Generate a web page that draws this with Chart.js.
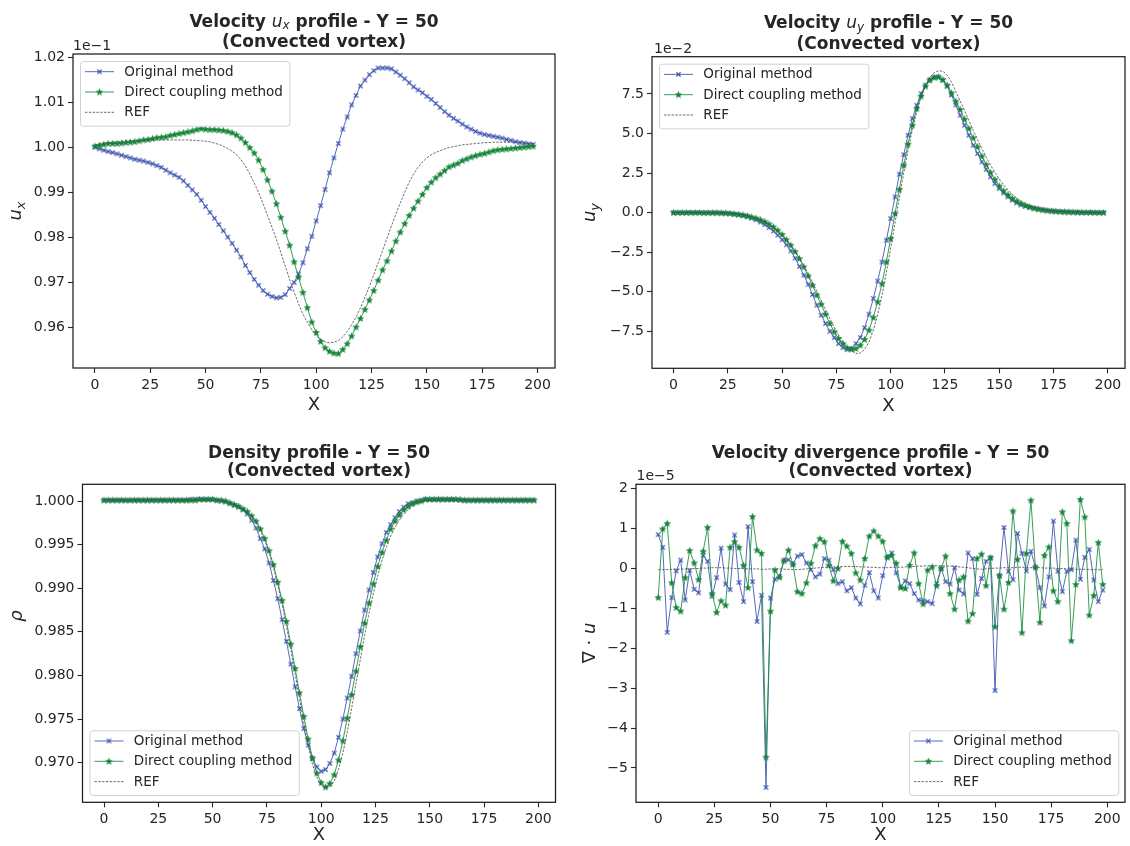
<!DOCTYPE html>
<html>
<head>
<meta charset="utf-8">
<script src="https://cdn.jsdelivr.net/npm/chart.js@4.4.1/dist/chart.umd.min.js"></script>
<style>
  html, body { margin: 0; padding: 0; background: #fff; }
  #wrap { position: relative; width: 1130px; height: 846px; overflow: hidden; }
  canvas { position: absolute; }
</style>
</head>
<body>
<div id="wrap">
  <canvas id="ux" width="565" height="423" style="left:0;top:0"></canvas>
  <canvas id="uy" width="565" height="423" style="left:565px;top:0"></canvas>
  <canvas id="rho" width="565" height="423" style="left:0;top:423px"></canvas>
  <canvas id="div" width="565" height="423" style="left:565px;top:423px"></canvas>
</div>
<script>
const FONT = "'DejaVu Sans', 'Liberation Sans', sans-serif";
const INK = "#262626";
const BLUE = "rgb(56, 80, 174)";
const BLUE_LINE = "rgba(56, 80, 174, 0.85)";
const GREEN = "rgb(20, 132, 56)";
const GREEN_LINE = "rgba(22, 140, 60, 0.85)";
const REF_COLOR = "#454545";

// grid positions along the Y = 50 line
const xPos = [
  0, 2, 4, 6, 8, 10, 12, 14, 16, 18,
  20, 22, 24, 26, 28, 30, 32, 34, 36, 38,
  40, 42, 44, 46, 48, 50, 52, 54, 56, 58,
  60, 62, 64, 66, 68, 70, 72, 74, 76, 78,
  80, 82, 84, 86, 88, 90, 92, 94, 96, 98,
  100, 102, 104, 106, 108, 110, 112, 114, 116, 118,
  120, 122, 124, 126, 128, 130, 132, 134, 136, 138,
  140, 142, 144, 146, 148, 150, 152, 154, 156, 158,
  160, 162, 164, 166, 168, 170, 172, 174, 176, 178,
  180, 182, 184, 186, 188, 190, 192, 194, 196, 198,
];
const xTicks = [0, 25, 50, 75, 100, 125, 150, 175, 200];

// u_x (x 1e-1)
const uxOriginal = [
  1.0000, 0.9996, 0.9993, 0.9990, 0.9988, 0.9985, 0.9982, 0.9979, 0.9976, 0.9973,
  0.9971, 0.9969, 0.9966, 0.9963, 0.9959, 0.9955, 0.9949, 0.9943, 0.9938, 0.9933,
  0.9925, 0.9915, 0.9905, 0.9895, 0.9882, 0.9868, 0.9855, 0.9842, 0.9828, 0.9814,
  0.9800, 0.9786, 0.9771, 0.9756, 0.9737, 0.9721, 0.9706, 0.9693, 0.9681, 0.9673,
  0.9668, 0.9665, 0.9666, 0.9672, 0.9686, 0.9699, 0.9718, 0.9743, 0.9774, 0.9802,
  0.9836, 0.9870, 0.9906, 0.9943, 0.9976, 1.0008, 1.0040, 1.0067, 1.0094, 1.0115,
  1.0136, 1.0149, 1.0161, 1.0170, 1.0176, 1.0176, 1.0176, 1.0174, 1.0167, 1.0160,
  1.0152, 1.0143, 1.0134, 1.0127, 1.0121, 1.0113, 1.0106, 1.0097, 1.0088, 1.0079,
  1.0071, 1.0064, 1.0058, 1.0051, 1.0045, 1.0040, 1.0035, 1.0031, 1.0028, 1.0026,
  1.0024, 1.0022, 1.0020, 1.0017, 1.0015, 1.0012, 1.0010, 1.0009, 1.0007, 1.0006,
];
const uxDirect = [
  1.0002, 1.0004, 1.0006, 1.0008, 1.0008, 1.0008, 1.0009, 1.0010, 1.0011, 1.0012,
  1.0014, 1.0016, 1.0017, 1.0019, 1.0021, 1.0022, 1.0023, 1.0026, 1.0028, 1.0030,
  1.0032, 1.0034, 1.0036, 1.0039, 1.0041, 1.0040, 1.0039, 1.0039, 1.0038, 1.0037,
  1.0035, 1.0032, 1.0027, 1.0020, 1.0010, 0.9999, 0.9987, 0.9971, 0.9950, 0.9927,
  0.9902, 0.9874, 0.9844, 0.9813, 0.9782, 0.9745, 0.9711, 0.9677, 0.9643, 0.9611,
  0.9588, 0.9568, 0.9554, 0.9546, 0.9542, 0.9541, 0.9550, 0.9563, 0.9580, 0.9600,
  0.9619, 0.9639, 0.9660, 0.9681, 0.9704, 0.9727, 0.9747, 0.9769, 0.9791, 0.9811,
  0.9830, 0.9848, 0.9864, 0.9880, 0.9895, 0.9910, 0.9922, 0.9932, 0.9940, 0.9948,
  0.9956, 0.9960, 0.9964, 0.9970, 0.9974, 0.9978, 0.9981, 0.9984, 0.9986, 0.9989,
  0.9992, 0.9994, 0.9995, 0.9996, 0.9997, 0.9998, 0.9999, 1.0000, 1.0001, 1.0002,
];
const uxRef = [
  1.0005, 1.0007, 1.0009, 1.0010, 1.0011, 1.0012, 1.0013, 1.0014, 1.0014, 1.0015,
  1.0015, 1.0015, 1.0016, 1.0016, 1.0016, 1.0016, 1.0016, 1.0016, 1.0016, 1.0016,
  1.0016, 1.0016, 1.0015, 1.0015, 1.0014, 1.0013, 1.0012, 1.0009, 1.0006, 1.0002,
  0.9997, 0.9991, 0.9983, 0.9972, 0.9958, 0.9940, 0.9920, 0.9899, 0.9874, 0.9848,
  0.9822, 0.9795, 0.9766, 0.9736, 0.9705, 0.9678, 0.9652, 0.9629, 0.9610, 0.9594,
  0.9581, 0.9573, 0.9567, 0.9565, 0.9566, 0.9570, 0.9578, 0.9590, 0.9605, 0.9622,
  0.9643, 0.9666, 0.9690, 0.9716, 0.9743, 0.9770, 0.9798, 0.9825, 0.9851, 0.9876,
  0.9900, 0.9922, 0.9940, 0.9955, 0.9967, 0.9976, 0.9983, 0.9988, 0.9992, 0.9996,
  0.9999, 1.0001, 1.0003, 1.0005, 1.0006, 1.0007, 1.0008, 1.0009, 1.0010, 1.0010,
  1.0011, 1.0011, 1.0011, 1.0011, 1.0011, 1.0011, 1.0011, 1.0010, 1.0009, 1.0008,
];
const uxTicks = [0.96, 0.97, 0.98, 0.99, 1.00, 1.01, 1.02];

// u_y (x 1e-2)
const uyOriginal = [
  0.00, 0.00, 0.00, 0.00, 0.00, 0.00, 0.00, -0.01, -0.01, -0.01,
  -0.01, -0.02, -0.04, -0.06, -0.10, -0.14, -0.19, -0.26, -0.35, -0.46,
  -0.60, -0.76, -0.95, -1.17, -1.43, -1.72, -2.04, -2.42, -2.88, -3.40,
  -3.96, -4.53, -5.18, -5.85, -6.49, -7.01, -7.50, -7.90, -8.28, -8.53,
  -8.66, -8.59, -8.28, -7.90, -7.27, -6.42, -5.43, -4.32, -3.12, -1.75,
  -0.38, 0.99, 2.42, 3.66, 4.89, 5.94, 6.78, 7.52, 8.05, 8.40,
  8.57, 8.57, 8.36, 7.98, 7.42, 6.80, 6.15, 5.52, 4.89, 4.25,
  3.73, 3.20, 2.72, 2.25, 1.83, 1.52, 1.24, 0.99, 0.78, 0.61,
  0.48, 0.40, 0.33, 0.27, 0.22, 0.18, 0.14, 0.11, 0.09, 0.07,
  0.05, 0.04, 0.03, 0.02, 0.02, 0.01, 0.01, 0.01, 0.00, 0.00,
];
const uyDirect = [
  0.00, 0.00, 0.00, 0.00, 0.00, 0.00, 0.00, -0.01, -0.01, -0.01,
  -0.01, -0.02, -0.03, -0.05, -0.08, -0.11, -0.15, -0.21, -0.28, -0.35,
  -0.45, -0.57, -0.72, -0.90, -1.12, -1.38, -1.72, -2.06, -2.46, -2.91,
  -3.43, -4.00, -4.59, -5.22, -5.79, -6.42, -7.01, -7.54, -7.96, -8.28,
  -8.55, -8.63, -8.59, -8.38, -8.02, -7.43, -6.63, -5.64, -4.49, -3.12,
  -1.64, -0.06, 1.47, 2.99, 4.32, 5.52, 6.57, 7.35, 7.98, 8.36,
  8.53, 8.57, 8.40, 8.05, 7.56, 7.03, 6.51, 5.90, 5.31, 4.72,
  4.15, 3.56, 3.03, 2.53, 2.09, 1.68, 1.38, 1.13, 0.90, 0.72,
  0.57, 0.45, 0.36, 0.28, 0.22, 0.17, 0.13, 0.10, 0.08, 0.06,
  0.05, 0.04, 0.03, 0.02, 0.01, 0.01, 0.01, 0.00, 0.00, 0.00,
];
const uyRef = [
  0.00, 0.00, 0.00, 0.00, 0.00, 0.00, 0.00, 0.00, 0.00, 0.00,
  0.00, -0.01, -0.02, -0.04, -0.06, -0.09, -0.13, -0.19, -0.26, -0.35,
  -0.46, -0.60, -0.77, -0.97, -1.20, -1.46, -1.76, -2.10, -2.48, -2.90,
  -3.36, -3.86, -4.40, -4.97, -5.55, -6.13, -6.70, -7.24, -7.73, -8.15,
  -8.50, -8.75, -8.90, -8.88, -8.65, -8.18, -7.44, -6.45, -5.22, -3.80,
  -2.25, -0.65, 0.95, 2.50, 3.95, 5.25, 6.38, 7.30, 8.02, 8.53,
  8.84, 8.96, 8.93, 8.70, 8.25, 7.65, 7.05, 6.45, 5.82, 5.20,
  4.60, 4.03, 3.50, 3.00, 2.55, 2.12, 1.75, 1.43, 1.15, 0.92,
  0.73, 0.58, 0.45, 0.35, 0.27, 0.21, 0.16, 0.12, 0.09, 0.07,
  0.05, 0.04, 0.03, 0.02, 0.02, 0.01, 0.01, 0.01, 0.00, 0.00,
];
const uyTicks = [-7.5, -5.0, -2.5, 0.0, 2.5, 5.0, 7.5];

// density
const rhoOriginal = [
  1.0001, 1.0001, 1.0001, 1.0001, 1.0001, 1.0001, 1.0001, 1.0001, 1.0001, 1.0001,
  1.0001, 1.0001, 1.0001, 1.0001, 1.0001, 1.0001, 1.0001, 1.0001, 1.0001, 1.0001,
  1.0002, 1.0002, 1.0002, 1.0002, 1.0002, 1.0002, 1.0001, 1.0000, 0.9999, 0.9997,
  0.9995, 0.9993, 0.9990, 0.9985, 0.9978, 0.9969, 0.9957, 0.9945, 0.9929, 0.9909,
  0.9888, 0.9864, 0.9839, 0.9813, 0.9787, 0.9762, 0.9739, 0.9720, 0.9705, 0.9695,
  0.9690, 0.9692, 0.9699, 0.9711, 0.9729, 0.9750, 0.9774, 0.9799, 0.9825, 0.9851,
  0.9875, 0.9898, 0.9918, 0.9936, 0.9951, 0.9964, 0.9973, 0.9981, 0.9988, 0.9993,
  0.9997, 0.9998, 1.0000, 1.0001, 1.0002, 1.0002, 1.0002, 1.0002, 1.0002, 1.0002,
  1.0002, 1.0002, 1.0001, 1.0001, 1.0001, 1.0001, 1.0001, 1.0001, 1.0001, 1.0001,
  1.0001, 1.0001, 1.0001, 1.0001, 1.0001, 1.0001, 1.0001, 1.0001, 1.0001, 1.0001,
];
const rhoDirect = [
  1.0001, 1.0001, 1.0001, 1.0001, 1.0001, 1.0001, 1.0001, 1.0001, 1.0001, 1.0001,
  1.0001, 1.0001, 1.0001, 1.0001, 1.0001, 1.0001, 1.0001, 1.0001, 1.0001, 1.0001,
  1.0001, 1.0001, 1.0002, 1.0002, 1.0002, 1.0002, 1.0001, 1.0001, 1.0000, 0.9998,
  0.9996, 0.9994, 0.9991, 0.9988, 0.9983, 0.9977, 0.9968, 0.9957, 0.9943, 0.9927,
  0.9907, 0.9886, 0.9862, 0.9836, 0.9808, 0.9780, 0.9753, 0.9727, 0.9705, 0.9688,
  0.9677, 0.9672, 0.9676, 0.9686, 0.9703, 0.9725, 0.9751, 0.9778, 0.9805, 0.9833,
  0.9860, 0.9883, 0.9905, 0.9925, 0.9941, 0.9955, 0.9968, 0.9977, 0.9984, 0.9990,
  0.9994, 0.9997, 0.9999, 1.0000, 1.0002, 1.0002, 1.0002, 1.0002, 1.0002, 1.0002,
  1.0002, 1.0002, 1.0002, 1.0001, 1.0001, 1.0001, 1.0001, 1.0001, 1.0001, 1.0001,
  1.0001, 1.0001, 1.0001, 1.0001, 1.0001, 1.0001, 1.0001, 1.0001, 1.0001, 1.0001,
];
const rhoRef = [
  1.0001, 1.0001, 1.0001, 1.0001, 1.0001, 1.0001, 1.0001, 1.0001, 1.0001, 1.0001,
  1.0001, 1.0001, 1.0001, 1.0001, 1.0001, 1.0001, 1.0001, 1.0001, 1.0001, 1.0001,
  1.0001, 1.0001, 1.0001, 1.0001, 1.0001, 1.0001, 1.0001, 1.0000, 0.9999, 0.9998,
  0.9996, 0.9994, 0.9991, 0.9987, 0.9982, 0.9975, 0.9966, 0.9955, 0.9941, 0.9924,
  0.9904, 0.9882, 0.9857, 0.9830, 0.9802, 0.9774, 0.9746, 0.9720, 0.9698, 0.9683,
  0.9674, 0.9671, 0.9672, 0.9679, 0.9692, 0.9711, 0.9735, 0.9762, 0.9790, 0.9818,
  0.9846, 0.9871, 0.9894, 0.9914, 0.9932, 0.9947, 0.9960, 0.9970, 0.9978, 0.9985,
  0.9990, 0.9994, 0.9997, 0.9999, 1.0000, 1.0001, 1.0001, 1.0001, 1.0001, 1.0001,
  1.0001, 1.0001, 1.0001, 1.0001, 1.0001, 1.0001, 1.0001, 1.0001, 1.0001, 1.0001,
  1.0001, 1.0001, 1.0001, 1.0001, 1.0001, 1.0001, 1.0001, 1.0001, 1.0001, 1.0001,
];
const rhoTicks = [0.970, 0.975, 0.980, 0.985, 0.990, 0.995, 1.000];

// velocity divergence (x 1e-5)
const divOriginal = [
  0.85, 0.53, -1.60, -0.73, -0.06, 0.21, -0.79, -0.05, -0.52, -0.61,
  0.33, 0.18, -0.70, -0.23, 0.51, -0.39, -0.53, 0.84, -0.35, -0.83,
  1.05, -0.33, -1.33, -0.67, -5.49, -0.74, -0.27, -0.20, 0.21, 0.22,
  0.12, 0.31, 0.35, 0.14, -0.03, -0.21, -0.14, 0.25, 0.21, -0.03,
  -0.38, -0.33, -0.56, -0.48, -0.74, -0.89, -0.42, -0.10, -0.56, -0.74,
  -0.18, 0.29, 0.39, -0.11, -0.46, -0.31, -0.38, -0.63, -0.79, -0.81,
  -0.83, -0.88, -0.38, 0.00, -0.33, -0.39, 0.02, -0.54, -0.64, 0.39,
  0.25, -0.65, -0.25, 0.18, 0.27, -3.06, -0.18, 1.03, -0.07, -0.28,
  0.88, 0.38, -0.06, 0.43, 0.04, -0.48, -0.94, -0.21, 1.19, -0.07,
  -0.58, -0.07, -0.03, 0.71, -0.27, 0.28, 0.48, -0.29, -0.83, -0.54,
];
const divDirect = [
  -0.73, 0.99, 1.13, -0.36, -0.98, -1.07, -0.23, 0.45, 0.14, -0.28,
  0.43, 1.03, -0.63, -1.10, -0.81, -0.92, 0.53, 0.67, 0.53, 0.08,
  -0.48, 1.30, 0.46, 0.38, -4.73, -1.07, -0.04, -0.22, 0.19, 0.46,
  0.10, -0.58, -0.63, -0.36, 0.13, 0.57, 0.75, 0.67, 0.08, -0.31,
  0.00, 0.68, 0.56, 0.38, -0.11, -0.29, 0.25, 0.81, 0.94, 0.81,
  0.68, 0.28, 0.33, 0.13, -0.48, -0.50, 0.08, 0.39, -0.38, -0.89,
  -0.04, 0.04, -0.43, 0.00, 0.31, -0.63, -1.02, -0.29, -0.21, -1.32,
  -1.13, 0.25, 0.36, -0.43, 0.27, -1.46, -0.18, -1.02, -0.35, 1.44,
  0.23, -1.61, 0.38, 1.71, 0.03, -1.35, 0.33, 0.54, -0.56, -0.83,
  1.42, 1.13, -1.81, -0.40, 1.73, 1.29, -1.17, -0.68, 0.65, -0.40,
];
const divRef = [
  -0.03, -0.03, -0.03, -0.02, -0.02, -0.02, -0.01, -0.01, 0.00, 0.00,
  0.01, 0.01, 0.02, 0.02, 0.02, 0.01, 0.01, 0.00, 0.00, 0.00,
  -0.01, -0.01, -0.01, -0.02, -0.02, -0.01, -0.01, -0.01, -0.02, -0.02,
  -0.03, -0.03, -0.02, -0.01, 0.00, 0.01, 0.02, 0.03, 0.03, 0.04,
  0.04, 0.05, 0.05, 0.05, 0.05, 0.04, 0.04, 0.03, 0.03, 0.02,
  0.02, 0.02, 0.03, 0.03, 0.03, 0.04, 0.05, 0.05, 0.06, 0.06,
  0.07, 0.07, 0.07, 0.07, 0.06, 0.06, 0.05, 0.04, 0.03, 0.02,
  0.00, -0.01, -0.02, -0.01, 0.00, 0.01, 0.01, 0.02, 0.02, 0.02,
  0.03, 0.03, 0.03, 0.02, 0.02, 0.02, 0.01, 0.01, 0.01, 0.00,
  0.00, -0.01, -0.01, -0.02, -0.02, -0.02, -0.03, -0.03, -0.03, -0.03,
];
const divTicks = [-5, -4, -3, -2, -1, 0, 1, 2];

// marker images, drawn once
const makeCross = () => {
  const c = document.createElement("canvas");
  c.width = 7; c.height = 7;
  const g = c.getContext("2d");
  g.strokeStyle = BLUE;
  g.lineWidth = 1.3;
  g.beginPath();
  g.moveTo(1.4, 1.4); g.lineTo(5.6, 5.6);
  g.moveTo(5.6, 1.4); g.lineTo(1.4, 5.6);
  g.stroke();
  return c;
};
const makeStar = () => {
  const c = document.createElement("canvas");
  c.width = 9; c.height = 9;
  const g = c.getContext("2d");
  g.fillStyle = GREEN;
  g.strokeStyle = "rgba(20, 132, 56, 0.6)";
  g.lineWidth = 0.6;
  g.beginPath();
  for (let i = 0; i < 10; i++) {
    const r = i % 2 === 0 ? 3.5 : 1.6;
    const a = -Math.PI / 2 + i * Math.PI / 5;
    const px = 4.5 + r * Math.cos(a), py = 4.7 + r * Math.sin(a);
    if (i === 0) g.moveTo(px, py); else g.lineTo(px, py);
  }
  g.closePath();
  g.fill();
  g.stroke();
  return c;
};
const crossMarker = makeCross();
const starMarker = makeStar();

// draw a row of text pieces (mixed fonts) centred on cx
const drawPieces = (ctx, pieces, cx, base) => {
  let total = 0;
  pieces.forEach((p) => { ctx.font = p.font; p.w = ctx.measureText(p.t).width; total += p.w; });
  let x = cx - total / 2;
  pieces.forEach((p) => {
    ctx.font = p.font;
    ctx.fillText(p.t, x, base + (p.dy || 0));
    x += p.w;
  });
};

const bold = (t) => ({ t, font: `bold 17px ${FONT}` });
const ital = (t, size = 17) => ({ t, font: `italic ${size}px ${FONT}` });
const sub = (t, size = 12, dy = 2.5) => ({ t, font: `italic ${size}px ${FONT}`, dy });
const plain = (t, size = 17) => ({ t, font: `${size}px ${FONT}` });

const drawLegend = (ctx, chart, corner) => {
  const area = chart.chartArea;
  const items = chart.data.datasets;
  ctx.font = `13.5px ${FONT}`;
  const textW = Math.max(...items.map((d) => ctx.measureText(d.label).width));
  const w = 44.3 + textW + 6.5;
  const h = 64.7;
  const x = corner === "lr" ? area.right - 6.7 - w : area.left + 7;
  const y = corner === "ul" ? area.top + 7 : area.bottom - 7.3 - h;
  ctx.beginPath();
  ctx.roundRect(x + 0.5, y + 0.5, w, h, 3);
  ctx.fillStyle = "rgba(255, 255, 255, 0.85)";
  ctx.fill();
  ctx.strokeStyle = "#d2d2d2";
  ctx.lineWidth = 1;
  ctx.stroke();
  items.forEach((d, i) => {
    const cy = y + 10.7 + i * 20.3;
    ctx.save();
    ctx.strokeStyle = d.borderColor;
    ctx.lineWidth = d.borderWidth;
    ctx.setLineDash(d.borderDash || []);
    ctx.beginPath();
    ctx.moveTo(x + 5, cy);
    ctx.lineTo(x + 34, cy);
    ctx.stroke();
    ctx.restore();
    if (d.pointRadius > 0) {
      const m = d.pointStyle;
      ctx.drawImage(m, x + 19.5 - m.width / 2, cy - m.height / 2);
    }
    ctx.fillStyle = INK;
    ctx.textBaseline = "middle";
    ctx.font = `13.5px ${FONT}`;
    ctx.fillText(d.label, x + 44.3, cy + 0.5);
  });
};

const decorPlugin = {
  id: "decor",
  afterDraw(chart, args, opts) {
    const ctx = chart.ctx;
    const area = chart.chartArea;
    ctx.save();
    ctx.strokeStyle = "#1e1e1e";
    ctx.lineWidth = 1.25;
    ctx.strokeRect(area.left, area.top, area.right - area.left, area.bottom - area.top);

    ctx.fillStyle = INK;
    ctx.textAlign = "left";
    ctx.textBaseline = "alphabetic";
    const cx = (area.left + area.right) / 2;
    opts.title.forEach((line, i) => drawPieces(ctx, line, cx, opts.titleBase[i]));

    ctx.save();
    ctx.translate(opts.ylabel.x, opts.ylabel.y);
    ctx.rotate(-Math.PI / 2);
    drawPieces(ctx, opts.ylabel.pieces, 0, 0);
    ctx.restore();

    if (opts.offset) {
      ctx.font = `14px ${FONT}`;
      ctx.fillText(opts.offset.text, opts.offset.x, opts.offset.y);
    }
    drawLegend(ctx, chart, opts.legendCorner);
    ctx.restore();
  },
};

const toPoints = (values) => values.map((y, i) => ({ x: xPos[i], y }));

const buildChart = (id, cfg) => new Chart(document.getElementById(id), {
  type: "line",
  data: {
    datasets: [
      {
        label: "Original method",
        data: toPoints(cfg.original),
        borderColor: BLUE_LINE,
        borderWidth: 1,
        pointStyle: crossMarker,
        pointRadius: 3,
        order: 2,
      },
      {
        label: "Direct coupling method",
        data: toPoints(cfg.direct),
        borderColor: GREEN_LINE,
        borderWidth: 1,
        pointStyle: starMarker,
        pointRadius: 3,
        order: 1,
      },
      {
        label: "REF",
        data: toPoints(cfg.ref),
        borderColor: REF_COLOR,
        borderWidth: 0.8,
        borderDash: [2.4, 1.4],
        pointRadius: 0,
        order: 0,
      },
    ],
  },
  options: {
    responsive: false,
    animation: false,
    events: [],
    layout: { padding: cfg.padding },
    elements: { line: { tension: 0 } },
    plugins: {
      legend: { display: false },
      tooltip: { enabled: false },
      decor: cfg.decor,
    },
    scales: {
      x: {
        type: "linear",
        min: -9.9,
        max: 207.9,
        afterBuildTicks: (s) => { s.ticks = xTicks.map((v) => ({ value: v })); },
        afterFit: (s) => { s.height = cfg.xHeight; },
        border: { display: false },
        grid: { drawOnChartArea: false, drawTicks: true, tickLength: 5, tickColor: INK, tickWidth: 1.1 },
        ticks: { color: INK, font: { family: FONT, size: 14 }, padding: 4, maxRotation: 0, autoSkip: false },
        title: {
          display: true, text: "X", color: INK,
          font: { family: FONT, size: 18 },
          padding: { top: 0, bottom: cfg.xTitlePad },
        },
      },
      y: {
        type: "linear",
        min: cfg.yMin,
        max: cfg.yMax,
        afterBuildTicks: (s) => { s.ticks = cfg.yTicks.map((v) => ({ value: v })); },
        afterFit: (s) => { s.width = cfg.yWidth; },
        border: { display: false },
        grid: { drawOnChartArea: false, drawTicks: true, tickLength: 5, tickColor: INK, tickWidth: 1.1 },
        ticks: { color: INK, font: { family: FONT, size: 14 }, padding: 3, autoSkip: false, callback: cfg.yFormat },
      },
    },
  },
  plugins: [decorPlugin],
});

const minus = (s) => s.replace("-", "\u2212");

buildChart("ux", {
  original: uxOriginal, direct: uxDirect, ref: uxRef,
  yTicks: uxTicks, yMin: 0.9509, yMax: 1.0207,
  yFormat: (v) => v.toFixed(2),
  padding: { left: 0, top: 54, right: 10, bottom: 0 },
  yWidth: 73, xHeight: 55, xTitlePad: 6.5,
  decor: {
    title: [
      [bold("Velocity "), ital("u"), sub("x"), bold(" profile - Y = 50")],
      [bold("(Convected vortex)")],
    ],
    titleBase: [26.5, 46.5],
    ylabel: { x: 20.5, y: 211, pieces: [ital("u", 18), sub("x", 13, 4)] },
    offset: { text: "1e\u22121", x: 73, y: 50 },
    legendCorner: "ul",
  },
});

buildChart("uy", {
  original: uyOriginal, direct: uyDirect, ref: uyRef,
  yTicks: uyTicks, yMin: -9.84, yMax: 9.85,
  yFormat: (v) => minus(v.toFixed(1)),
  padding: { left: 0, top: 56.7, right: 1.5, bottom: 0 },
  yWidth: 87, xHeight: 54.7, xTitlePad: 6,
  decor: {
    title: [
      [bold("Velocity "), ital("u"), sub("y"), bold(" profile - Y = 50")],
      [bold("(Convected vortex)")],
    ],
    titleBase: [28, 48.5],
    ylabel: { x: 29.5, y: 212.5, pieces: [ital("u", 18), sub("y", 13, 4)] },
    offset: { text: "1e\u22122", x: 89, y: 53 },
    legendCorner: "ul",
  },
});

buildChart("rho", {
  original: rhoOriginal, direct: rhoDirect, ref: rhoRef,
  yTicks: rhoTicks, yMin: 0.96545, yMax: 1.00192,
  yFormat: (v) => v.toFixed(3),
  padding: { left: 0, top: 61.3, right: 9.5, bottom: 0 },
  yWidth: 82.5, xHeight: 43.7, xTitlePad: 0,
  decor: {
    title: [
      [bold("Density profile - Y = 50")],
      [bold("(Convected vortex)")],
    ],
    titleBase: [34.5, 52.7],
    ylabel: { x: 22, y: 193, pieces: [ital("\u03c1", 18)] },
    legendCorner: "ll",
  },
});

buildChart("div", {
  original: divOriginal, direct: divDirect, ref: divRef,
  yTicks: divTicks, yMin: -5.86, yMax: 2.11,
  yFormat: (v) => minus(String(v)),
  padding: { left: 0, top: 61.3, right: 1.3, bottom: 0 },
  yWidth: 71, xHeight: 43.7, xTitlePad: 0,
  decor: {
    title: [
      [bold("Velocity divergence profile - Y = 50")],
      [bold("(Convected vortex)")],
    ],
    titleBase: [34.5, 52.7],
    ylabel: { x: 30, y: 220, pieces: [plain("\u2207", 18), plain(" \u00b7 ", 18), ital("u", 18)] },
    offset: { text: "1e\u22125", x: 71.5, y: 57 },
    legendCorner: "lr",
  },
});
</script>
</body>
</html>
